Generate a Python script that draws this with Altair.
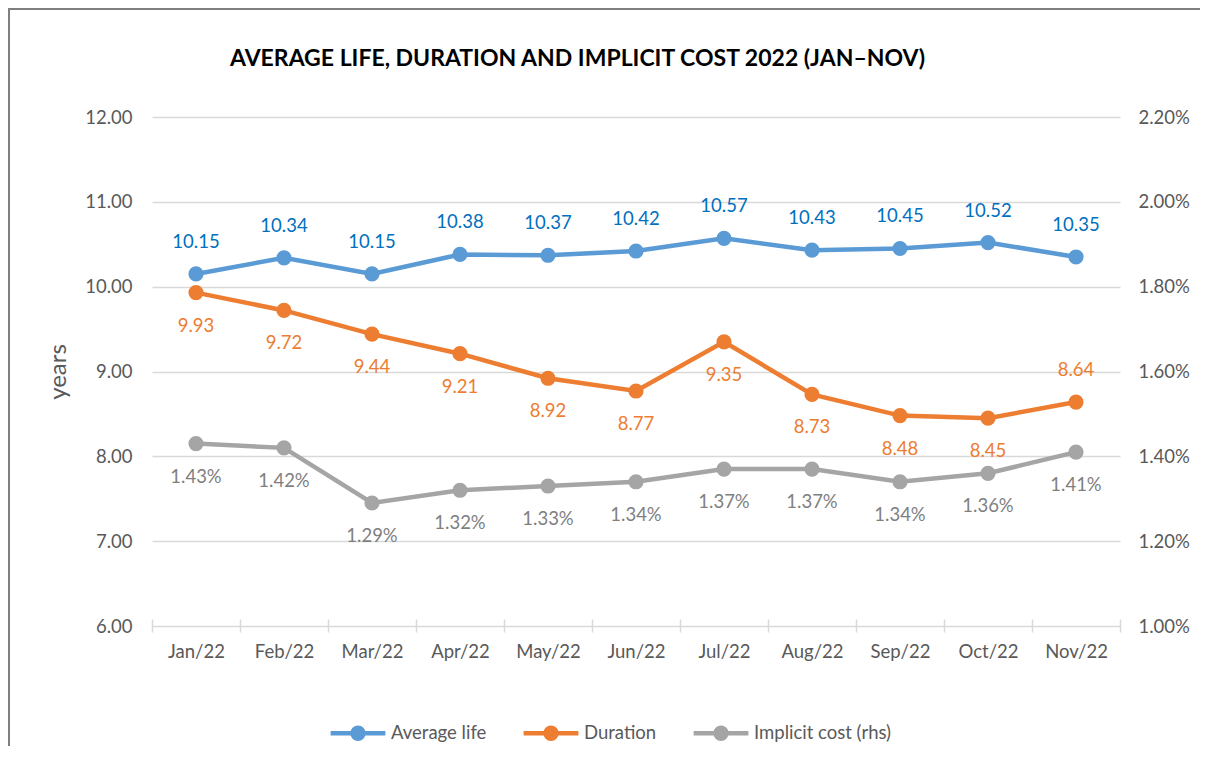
import altair as alt
import pandas as pd

months = ["Jan/22", "Feb/22", "Mar/22", "Apr/22", "May/22", "Jun/22",
          "Jul/22", "Aug/22", "Sep/22", "Oct/22", "Nov/22"]
avg_life = [10.15, 10.34, 10.15, 10.38, 10.37, 10.42, 10.57, 10.43, 10.45, 10.52, 10.35]
duration = [9.93, 9.72, 9.44, 9.21, 8.92, 8.77, 9.35, 8.73, 8.48, 8.45, 8.64]
implicit_cost = [1.43, 1.42, 1.29, 1.32, 1.33, 1.34, 1.37, 1.37, 1.34, 1.36, 1.41]

series = ["Average life", "Duration", "Implicit cost (rhs)"]
line_colors = ["#5B9BD5", "#ED7D31", "#A5A5A5"]

FONT = "Lato"
AX = 18.5
LB = 18.5

left_df = pd.DataFrame({
    "month": months * 2,
    "value": avg_life + duration,
    "series": [series[0]] * len(months) + [series[1]] * len(months),
})
right_df = pd.DataFrame({
    "month": months,
    "value": [v / 100 for v in implicit_cost],
    "series": [series[2]] * len(months),
})

x_enc = alt.X("month:N", sort=months, title=None,
              scale=alt.Scale(paddingInner=0, paddingOuter=0),
              axis=alt.Axis(labelFont=FONT, labelFontSize=AX, labelColor="#595959",
                            domain=False, ticks=True, tickColor="#D9D9D9", tickWidth=1.5,
                            tickSize=13, tickBand="extent", offset=-7, labelPadding=10,
                            labelAngle=0, grid=False))

color_enc = alt.Color("series:N",
                      scale=alt.Scale(domain=series, range=line_colors),
                      legend=alt.Legend(
                          title=None, orient="none", direction="horizontal",
                          legendX=176, legendY=586,
                          labelFont=FONT, labelFontSize=LB, labelColor="#595959",
                          symbolType="M-1,0L1,0M-0.2,0A0.2,0.2 0 1,1 0.2,0A0.2,0.2 0 1,1 -0.2,0Z",
                          symbolSize=3000, symbolStrokeWidth=4.5,
                          labelOffset=3, columnPadding=27))

y_left = alt.Y("value:Q", title="years",
               scale=alt.Scale(domain=[6, 12], nice=False, zero=False),
               axis=alt.Axis(values=[6, 7, 8, 9, 10, 11, 12], format=".2f",
                             labelFont=FONT, labelFontSize=AX, labelColor="#595959",
                             labelPadding=20, domain=False, ticks=False,
                             grid=True, gridColor="#D9D9D9", gridWidth=1.5,
                             titleFont=FONT, titleFontSize=24, titleFontWeight="normal",
                             titleColor="#595959", titlePadding=14))

y_right = alt.Y("value:Q", title=None,
                scale=alt.Scale(domain=[0.01, 0.022], nice=False, zero=False),
                axis=alt.Axis(orient="right", values=[0.01, 0.012, 0.014, 0.016, 0.018, 0.02, 0.022],
                              format=".2%", labelFont=FONT, labelFontSize=AX,
                              labelColor="#595959", labelPadding=18, domain=False,
                              ticks=False, grid=False))

left_base = alt.Chart(left_df).encode(x=x_enc, y=y_left)
left_lines = left_base.mark_line(strokeWidth=4.5, point=alt.OverlayMarkDef(size=230, filled=True, opacity=1)).encode(color=color_enc)

avg_labels = alt.Chart(left_df).transform_filter(alt.datum.series == series[0]).mark_text(
    font=FONT, fontSize=LB, color="#0070C0", dy=-32).encode(
    x=alt.X("month:N", sort=months), y=alt.Y("value:Q"), text=alt.Text("value:Q", format=".2f"))
dur_labels_below = alt.Chart(left_df).transform_filter(
    (alt.datum.series == series[1]) & (alt.datum.month != "Nov/22")).mark_text(
    font=FONT, fontSize=LB, color="#ED7D31", dy=33).encode(
    x=alt.X("month:N", sort=months), y=alt.Y("value:Q"), text=alt.Text("value:Q", format=".2f"))
dur_labels_above = alt.Chart(left_df).transform_filter(
    (alt.datum.series == series[1]) & (alt.datum.month == "Nov/22")).mark_text(
    font=FONT, fontSize=LB, color="#ED7D31", dy=-32).encode(
    x=alt.X("month:N", sort=months), y=alt.Y("value:Q"), text=alt.Text("value:Q", format=".2f"))

left_layer = alt.layer(left_lines, avg_labels, dur_labels_below, dur_labels_above)

right_base = alt.Chart(right_df).encode(x=alt.X("month:N", sort=months), y=y_right)
right_line = right_base.mark_line(strokeWidth=4.5, point=alt.OverlayMarkDef(size=230, filled=True, opacity=1)).encode(color=alt.Color("series:N"))
right_labels = right_base.mark_text(font=FONT, fontSize=LB, color="#7F7F7F", dy=33).encode(
    text=alt.Text("value:Q", format=".2%"))
right_layer = alt.layer(right_line, right_labels)

border = alt.Chart(pd.DataFrame({"k": [0]})).mark_rect(
    fill="transparent", stroke="#7F7F7F", strokeWidth=2).encode(
    x=alt.value(-143), y=alt.value(-108), x2=alt.value(1250), y2=alt.value(800))

chart = alt.layer(left_layer, right_layer, border).resolve_scale(y="independent").properties(
    width=968, height=509,
    background="white",
    padding={"left": 144, "top": 109, "right": 80, "bottom": 120},
    autosize=alt.AutoSizeParams(type="none"),
    title=alt.TitleParams("AVERAGE LIFE, DURATION AND IMPLICIT COST 2022 (JAN\u2013NOV)",
                          font=FONT, fontSize=23, fontWeight="bold", color="#000000",
                          anchor="start", frame="group", dx=78, offset=-63),
).configure_view(strokeWidth=0, stroke="transparent")

chart.save("out.html", embed_options={"renderer": "svg", "actions": False})
